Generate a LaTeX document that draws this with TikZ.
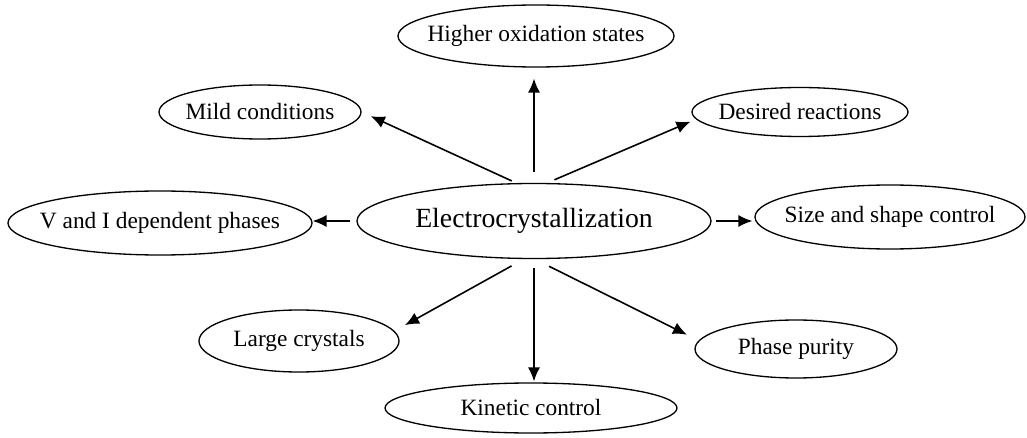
\documentclass[tikz,border=0pt]{standalone}
\usepackage{fontspec}
\setmainfont{Liberation Serif}
\usetikzlibrary{shapes.geometric,arrows.meta}
\newcommand\mklbl[1]{\makebox[0pt][c]{#1}}
\begin{document}
\begin{tikzpicture}[x=0.2mm,y=-0.2mm,
  bub/.style={draw, ellipse, line width=0.75pt, inner sep=0pt, font=\fontsize{13.3}{16}\selectfont},
  arr/.style={line width=0.9pt, -{Latex[length=8pt,width=7pt]}}]
\useasboundingbox (0,0) rectangle (1027,438);
\node[bub, minimum width=70.8mm, minimum height=15mm, font=\fontsize{15.8}{19}\selectfont] (E) at (534,221) {\mklbl{Electrocrystallization}};
\node[bub, minimum width=55.2mm, minimum height=12.4mm] (H) at (536,36) {\mklbl{Higher oxidation states}};
\node[bub, minimum width=40.4mm, minimum height=10.8mm] (M) at (260,112) {\mklbl{Mild conditions}};
\node[bub, minimum width=43.2mm, minimum height=9.8mm] (D) at (800,112) {\mklbl{Desired reactions}};
\node[bub, minimum width=60.8mm, minimum height=12.8mm] (V) at (160,223) {\mklbl{V and I dependent phases}};
\node[bub, minimum width=54mm, minimum height=12.8mm] (S) at (890,217) {\mklbl{Size and shape control}};
\node[bub, minimum width=40mm, minimum height=12.4mm] (L) at (299,341) {\mklbl{Large crystals}};
\node[bub, minimum width=40.4mm, minimum height=11.6mm] (P) at (796,349) {\mklbl{Phase purity}};
\node[bub, minimum width=58.4mm, minimum height=10mm] (K) at (531,408) {\mklbl{Kinetic control}};
\draw[arr, shorten <=2.2mm, shorten >=2.2mm] (E.north) -- (E.north |- H.south);
\draw[arr, shorten <=1mm, shorten >=2mm] (E.115) -- (M.east);
\draw[arr, shorten <=1.6mm, shorten >=1.2mm] (E.71) -- (D.184);
\draw[arr, shorten <=1.2mm] (E.west) -- (E.west -| V.east);
\draw[arr, shorten <=0.8mm, shorten >=0.4mm] (E.east) -- (E.east -| S.west);
\draw[arr, shorten <=1.8mm, shorten >=0.2mm] (E.south) -- (E.south |- K.north);
\draw[arr, shorten <=2.8mm, shorten >=2.4mm] (E.255) -- (L.6);
\draw[arr, shorten <=3.2mm, shorten >=2.6mm] (E.271) -- (P.175);
\end{tikzpicture}
\end{document}
